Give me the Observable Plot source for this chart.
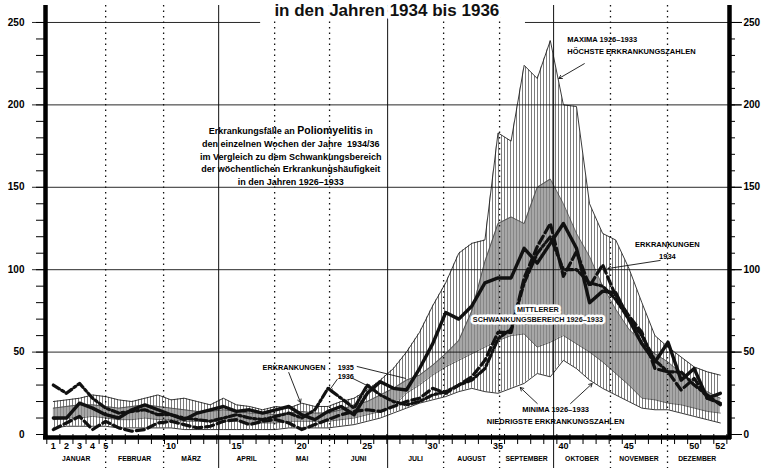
<!DOCTYPE html>
<html><head><meta charset="utf-8">
<script src="https://cdn.jsdelivr.net/npm/d3@7"></script>
<script src="https://cdn.jsdelivr.net/npm/@observablehq/plot@0.6"></script>
<style>
html,body{margin:0;padding:0;background:#fff;}
#chart svg{display:block;}
</style></head><body><div id="chart"></div>
<script>
// ---- data ----
const weeks = [1,2,3,4,5,6,7,8,9,10,11,12,13,14,15,16,17,18,19,20,21,22,23,24,25,26,27,28,29,30,31,32,33,34,35,36,37,38,39,40,41,42,43,44,45,46,47,48,49,50,51,52];
const maxima   = [20,21,22,24,23,21,20,22,24,21, 22,20,18,22,18,17,15,17,16,19, 17,17,20,22,27,33,40,50,62,78, 92,110,116,118,183,178,224,216,239,200, 199,140,122,118,101,80,60,53,47,41, 38,36];
const midUpper = [16,17,18,18,17,16,17,18,17,16, 15,14,14,15,14,13,13,12,13,14, 13,13,15,18,20,24,28,33,36,42, 49,57,75,105,128,132,128,150,155,140, 122,108,90,76,64,56,49,44,37,31, 26,22];
const midLower = [9,10,10,11,10,9,9,10,9,9, 8,8,8,8,8,7,7,7,8,8, 8,8,9,10,12,14,17,25,30,36, 41,45,49,53,57,60,61,53,56,60, 55,50,44,37,30,22,21,19,18,16, 14,13];
const minima   = [4,5,5,5,5,4,4,4,4,4, 3,3,3,3,3,3,3,3,4,4, 4,4,5,6,8,10,13,16,19,21, 23,26,28,26,25,28,31,37,35,45, 40,33,28,24,20,16,15,15,13,11, 9,7];
const cases1934 = [3,7,11,3,8,4,2,3,7,8, 6,4,5,8,9,6,8,9,7,3, 6,9,12,14,15,14,17,20,22,28, 25,30,35,45,62,62,95,114,128,96, 111,90,103,84,72,62,40,38,27,34, 22,19];
const cases1935 = [10,10,19,16,12,10,15,18,15,12, 9,13,15,17,14,15,13,15,17,12, 9,14,17,12,25,32,28,27,40,55, 74,70,78,92,95,95,113,104,116,128, 113,80,87,86,70,55,44,56,33,40, 22,25];
const cases1936 = [30,25,31,22,16,13,14,15,12,12, 10,9,8,10,12,10,9,11,13,10, 15,28,22,16,30,24,20,18,20,24, 26,30,33,40,58,64,92,110,120,100, 100,92,90,82,70,60,45,38,38,30, 24,18];

const yMajor = [0,50,100,150,200,250];
const yMinor = [0,10,20,30,40,50,60,70,80,90,100,110,120,130,140,150,160,170,180,190,200,210,220,230,240,250];
const gridLines = [50,100,150,200];
const weekLabels = [1,2,3,4,5,10,15,20,25,30,35,40,45,50,52];
const weekBounds = [0.5,1.5,2.5,3.5,4.5,5.5,6.5,7.5,8.5,9.5,10.5,11.5,12.5,13.5,14.5,15.5,16.5,17.5,18.5,19.5,20.5,21.5,22.5,23.5,24.5,25.5,26.5,27.5,28.5,29.5,30.5,31.5,32.5,33.5,34.5,35.5,36.5,37.5,38.5,39.5,40.5,41.5,42.5,43.5,44.5,45.5,46.5,47.5,48.5,49.5,50.5,51.5,52.5];
const months = ["JANUAR","FEBRUAR","MÄRZ","APRIL","MAI","JUNI","JULI","AUGUST","SEPTEMBER","OKTOBER","NOVEMBER","DEZEMBER"];
const monthBounds = [5.0, 9.43, 13.64, 17.92, 22.12, 26.56, 30.84, 35.12, 39.25, 43.6, 47.96];
const quarterBounds = [13.64, 26.56, 39.25];
const xDomain = [0.4, 52.7];
const yDomain = [0, 260.3];
const titleGap = [16.85, 37.1];

const rows = weeks.map((w, i) => ({w, max: maxima[i], hi: midUpper[i], lo: midLower[i], min: minima[i],
  c34: cases1934[i], c35: cases1935[i], c36: cases1936[i]}));
const edges = [0.5, ...monthBounds, 52.5];
const monthRows = months.map((m, i) => ({m, x: (edges[i] + edges[i+1]) / 2}));

const FONT = "'Liberation Sans', Arial, sans-serif";

const notes = [
  {x: 40.3, y: 236.7, t: "MAXIMA 1926–1933\nHÖCHSTE ERKRANKUNGSZAHLEN", a: "start"},
  {x: 47.95, y: 112.3, t: "ERKRANKUNGEN\n1934", a: "middle"},
  {x: 39.4, y: 12.2, t: "MINIMA 1926–1933\nNIEDRIGSTE ERKRANKUNGSZAHLEN", a: "middle"},
];
const arrows = [
  {x1: 41.6, y1: 225, x2: 39.65, y2: 216},
  {x1: 47.4, y1: 105.6, x2: 43.4, y2: 100.7},
  {x1: 38.0, y1: 18.8, x2: 36.7, y2: 28.5},
  {x1: 40.55, y1: 18.8, x2: 42.2, y2: 30.9},
  {x1: 19.0, y1: 37.6, x2: 19.9, y2: 19.4},
  {x1: 23.9, y1: 34, x2: 25.3, y2: 28.5},
  {x1: 22.7, y1: 33.4, x2: 22.1, y2: 26.7}
];
const pointer1935 = [{x1: 24.2, y1: 41.3, x2: 27.95, y2: 34}];
const description = "Erkrankungsfälle an Poliomyelitis in\nden einzelnen Wochen der Jahre  1934/36\nim Vergleich zu dem Schwankungsbereich\nder wöchentlichen Erkrankungshäufigkeit\nin den Jahren 1926–1933";

const plot = Plot.plot({
  width: 762, height: 468,
  marginLeft: 45, marginRight: 33, marginTop: 5, marginBottom: 34,
  x: {domain: xDomain, axis: null},
  y: {domain: yDomain, axis: null},
  style: {fontFamily: FONT, background: "#fff", overflow: "visible"},
  marks: [
    Plot.areaY(rows, {x: "w", y1: "min", y2: "max", fill: "url(#vhatch)"}),
    Plot.areaY(rows, {x: "w", y1: "lo", y2: "hi", fill: "#8a8a8a", fillOpacity: 0.75}),
    Plot.lineY(rows, {x: "w", y: "max", stroke: "#222", strokeWidth: 0.9}),
    Plot.lineY(rows, {x: "w", y: "min", stroke: "#222", strokeWidth: 0.9}),
    Plot.lineY(rows, {x: "w", y: "hi", stroke: "#333", strokeWidth: 0.7}),
    Plot.lineY(rows, {x: "w", y: "lo", stroke: "#333", strokeWidth: 0.7}),
    Plot.ruleY(gridLines, {stroke: "#111", strokeWidth: 0.9, insetLeft: -13, insetRight: -12}),
    Plot.ruleY([250], {x1: xDomain[0], x2: titleGap[0], stroke: "#111", strokeWidth: 0.9, insetLeft: -13}),
    Plot.ruleY([250], {x1: titleGap[1], x2: xDomain[1], stroke: "#111", strokeWidth: 0.9, insetRight: -12}),
    Plot.ruleX(monthBounds.filter(d => !quarterBounds.includes(d)), {stroke: "#111", strokeWidth: 1.3, strokeDasharray: "1.5,4", insetBottom: -34}),
    Plot.ruleX(quarterBounds, {stroke: "#111", strokeWidth: 1, insetBottom: -34}),
    Plot.lineY(rows, {x: "w", y: "c36", stroke: "#111", strokeWidth: 3.2, strokeDasharray: "7,3,2,3"}),
    Plot.lineY(rows, {x: "w", y: "c34", stroke: "#111", strokeWidth: 3.2, strokeDasharray: "8,4"}),
    Plot.lineY(rows, {x: "w", y: "c35", stroke: "#111", strokeWidth: 3.4}),
    Plot.ruleY([0], {stroke: "#000", strokeWidth: 4.5, dy: 3, insetLeft: -2, insetRight: -2}),
    Plot.ruleX([xDomain[0]], {stroke: "#000", strokeWidth: 4.5, insetBottom: -5}),
    Plot.ruleX([xDomain[1]], {stroke: "#000", strokeWidth: 4.5, insetBottom: -5}),
    Plot.axisY({anchor: "left", ticks: yMinor, tickSize: 9, tickFormat: () => "", label: null}),
    Plot.axisY({anchor: "left", ticks: yMajor, tickSize: 0, tickPadding: 21, label: null, fontSize: 10, fontWeight: "bold"}),
    Plot.axisY({anchor: "right", ticks: yMinor, tickSize: 5, tickFormat: () => "", label: null}),
    Plot.axisY({anchor: "right", ticks: yMajor, tickSize: 12, tickPadding: 2, label: null, fontSize: 10, fontWeight: "bold"}),
    Plot.axisX({anchor: "bottom", ticks: weekBounds, tickSize: 10, tickFormat: () => "", label: null}),
    Plot.text(weekLabels, {x: d => d, text: d => String(d), frameAnchor: "bottom", dy: 14.5, fontSize: 9, fontWeight: "bold"}),
    Plot.text(monthRows, {x: "x", text: "m", frameAnchor: "bottom", dy: 26, fontSize: 6.8, fontWeight: "bold"}),
    Plot.text(notes, {x: "x", y: "y", text: "t", textAnchor: "start", fontSize: 7.5, fontWeight: "bold", lineHeight: 1.5, filter: d => d.a === "start"}),
    Plot.text(notes, {x: "x", y: "y", text: "t", textAnchor: "middle", fontSize: 7.5, fontWeight: "bold", lineHeight: 1.5, filter: d => d.a === "middle"}),
    Plot.text(["MITTLERER\nSCHWANKUNGSBEREICH 1926–1933"], {x: 38.05, y: 73.4, text: d => d, fontSize: 7.3, fontWeight: "bold", lineHeight: 1.35, stroke: "#fff", strokeWidth: 5, fill: "#111"}),
    Plot.text(["ERKRANKUNGEN"], {x: 17.0, y: 40.7, text: d => d, textAnchor: "start", fontSize: 7.3, fontWeight: "bold"}),
    Plot.text(["1935\n1936"], {x: 22.74, y: 38.2, text: d => d, textAnchor: "start", fontSize: 7.3, fontWeight: "bold", lineHeight: 1.3}),
    Plot.text([description], {x: 19.15, y: 169.3, text: d => d, fontSize: 9, fontWeight: "bold", lineHeight: 1.42}),
    Plot.arrow(arrows, {x1: "x1", y1: "y1", x2: "x2", y2: "y2", stroke: "#111", strokeWidth: 0.9, headLength: 6}),
    Plot.link(pointer1935, {x1: "x1", y1: "y1", x2: "x2", y2: "y2", stroke: "#111", strokeWidth: 0.9}),
    Plot.text(["in den Jahren 1934 bis 1936"], {x: 26.5, text: d => d, frameAnchor: "top", lineAnchor: "middle", dy: 5, fontSize: 17, fontWeight: "bold", fill: "#111", stroke: "#fff", strokeWidth: 8})
  ]
});

const svg = d3.select(plot);
const defs = svg.insert("defs", ":first-child");
const pat = defs.append("pattern").attr("id", "vhatch").attr("patternUnits", "userSpaceOnUse").attr("width", 3).attr("height", 10);
pat.append("rect").attr("width", 3).attr("height", 10).attr("fill", "#fff");
pat.append("line").attr("x1", 0.5).attr("x2", 0.5).attr("y1", 0).attr("y2", 10).attr("stroke", "#444").attr("stroke-width", 0.7);
svg.selectAll("tspan").filter(function() { return this.textContent.includes("Poliomyelitis"); }).each(function() {
  const t = d3.select(this);
  const parts = this.textContent.split("Poliomyelitis");
  t.text(null);
  t.append("tspan").text(parts[0]);
  t.append("tspan").attr("font-size", 10.5).attr("font-weight", 900).text("Poliomyelitis");
  t.append("tspan").text(parts[1]);
});
document.getElementById("chart").append(plot);
</script></body></html>
